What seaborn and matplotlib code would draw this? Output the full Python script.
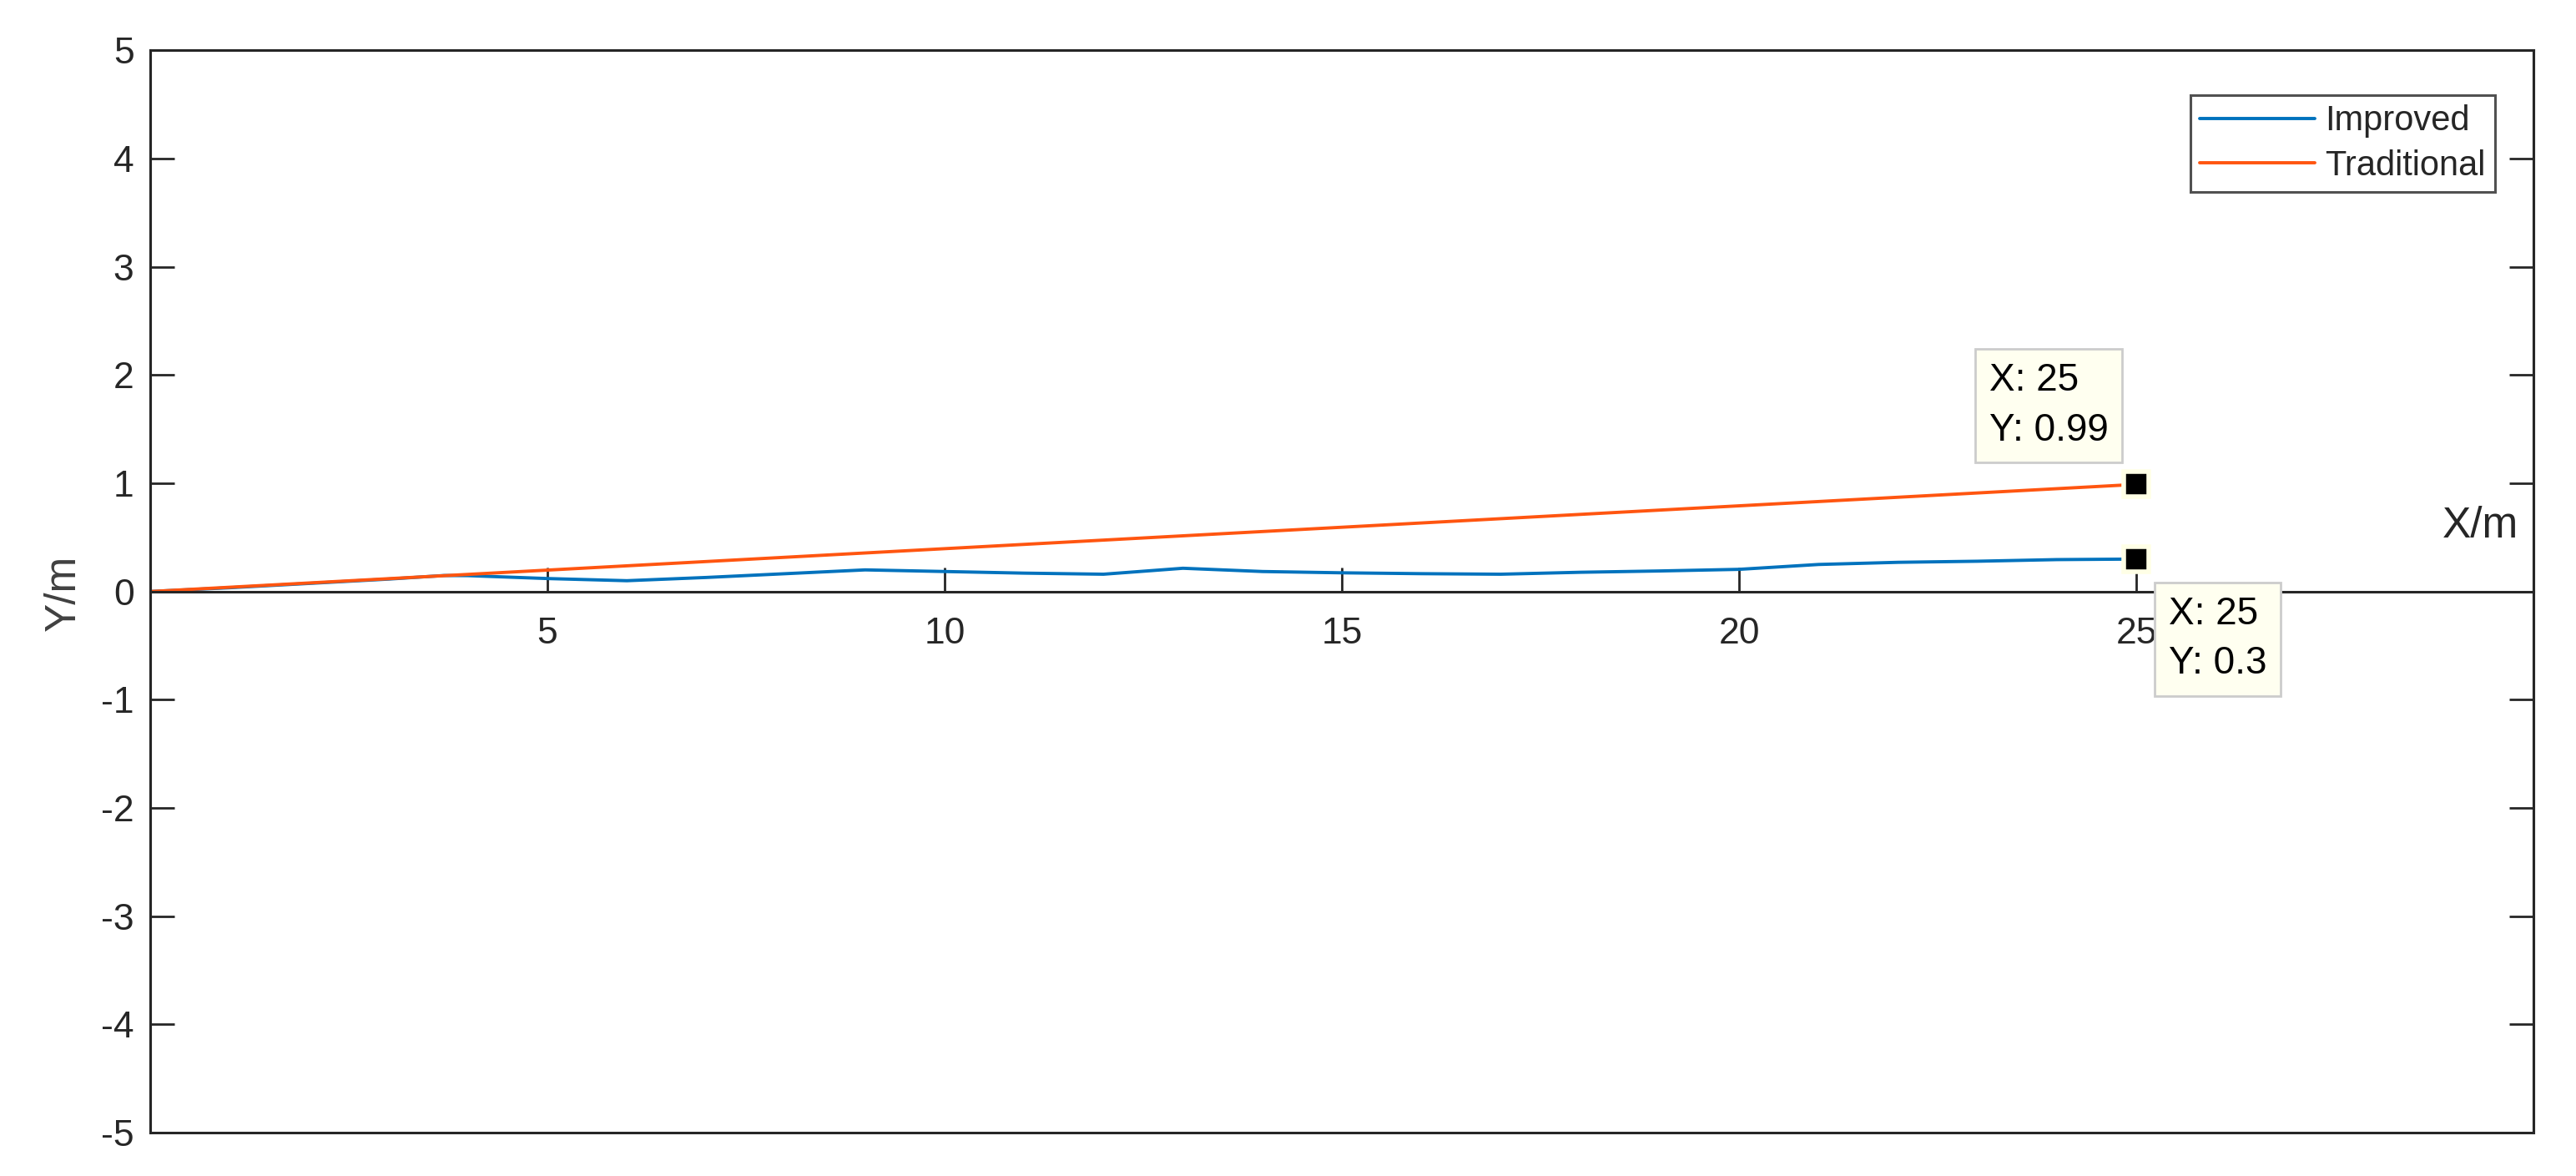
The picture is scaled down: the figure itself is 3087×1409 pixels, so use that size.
import numpy as np
import pandas as pd
import matplotlib
matplotlib.use("Agg")
import matplotlib.pyplot as plt
import seaborn as sns
from matplotlib.patches import Rectangle

# values
x_improved = [0, 1, 2, 3, 3.7, 4, 5, 6, 7, 8, 9, 10, 11, 12, 13, 14, 15,
              16, 17, 18, 19, 20, 21, 22, 23, 24, 25]
y_improved = [0, 0.035, 0.075, 0.115, 0.148, 0.147, 0.12, 0.10, 0.13, 0.165,
              0.20, 0.185, 0.17, 0.16, 0.215, 0.185, 0.173, 0.165, 0.16, 0.178,
              0.19, 0.205, 0.25, 0.27, 0.28, 0.295, 0.30]
x_traditional = [0, 25]
y_traditional = [0, 0.99]
series_names = ["Improved", "Traditional"]
series_colors = ["#0072BD", "#FF5510"]
x_ticks = [5, 10, 15, 20, 25]
y_ticks = [-5, -4, -3, -2, -1, 0, 1, 2, 3, 4, 5]

df = pd.concat([
    pd.DataFrame({"x": x_improved, "y": y_improved, "method": series_names[0]}),
    pd.DataFrame({"x": x_traditional, "y": y_traditional, "method": series_names[1]}),
], ignore_index=True)

sns.set_style("white")
plt.rcParams["font.family"] = ["Liberation Sans", "DejaVu Sans"]
plt.rcParams["axes.unicode_minus"] = False

dark = "#262626"
lw = 2.8
fig = plt.figure(figsize=(30.87, 14.09), dpi=100)
ax = fig.add_axes([0.0583, 0.0369, 0.9252, 0.9202])

sns.lineplot(data=df, x="x", y="y", hue="method", palette=series_colors,
             hue_order=series_names, estimator=None, sort=False,
             linewidth=lw, ax=ax)

ax.set_xlim(0, 30)
ax.set_ylim(-5, 5)
ax.set_xticks(x_ticks)
ax.set_yticks(y_ticks)

# x axis drawn through y = 0, box around the plot
ax.spines["bottom"].set_position(("data", 0))
for s in ax.spines.values():
    s.set_linewidth(2.2)
    s.set_color(dark)
ax.add_patch(Rectangle((0, 0), 1, 1, transform=ax.transAxes, fill=False,
                       lw=2.2, ec=dark, zorder=3, clip_on=False))

ax.tick_params(axis="x", direction="in", length=21, width=2, colors=dark,
               labelsize=32, pad=22, bottom=True, top=False)
ax.tick_params(axis="y", direction="in", length=21, width=2, colors=dark,
               labelsize=32, pad=14, left=True, right=True, labelright=False)

ax.set_xlabel("X/m", fontsize=37, color=dark, va="center", ha="center")
ax.xaxis.set_label_coords(0.9776, 0.5607)
ax.set_ylabel("Y/m", fontsize=37, color="#404040", va="center")
ax.yaxis.set_label_coords(-0.0364, 0.499)

leg = ax.legend(loc="upper right", bbox_to_anchor=(0.984, 0.959),
                borderaxespad=0, fontsize=30, frameon=True, fancybox=False,
                handlelength=3.3, handletextpad=0.3, labelspacing=0.32,
                borderpad=0.28)
leg.get_frame().set_edgecolor(dark)
leg.get_frame().set_linewidth(2.2)
for line in leg.get_lines():
    line.set_linewidth(lw)

# data tips at the end points
tips = [(x_traditional[-1], y_traditional[-1], (-127, 68)),
        (x_improved[-1], y_improved[-1], (28, -69))]
for tx, ty, off in tips:
    ax.plot([tx], [ty], marker="s", ms=22, mfc="black", mec="#FFFFE6",
            mew=4, zorder=5, clip_on=False)
    ax.annotate(f"X: {tx:g}\nY: {ty:g}", xy=(tx, ty), xytext=off,
                textcoords="offset points", ha="left", va="center",
                fontsize=33, color="black", linespacing=1.45, zorder=6,
                bbox=dict(boxstyle="square,pad=0.36", fc="#FFFFF0",
                          ec="#CCCCCC", lw=2))

fig.savefig("out.png", dpi=100)
